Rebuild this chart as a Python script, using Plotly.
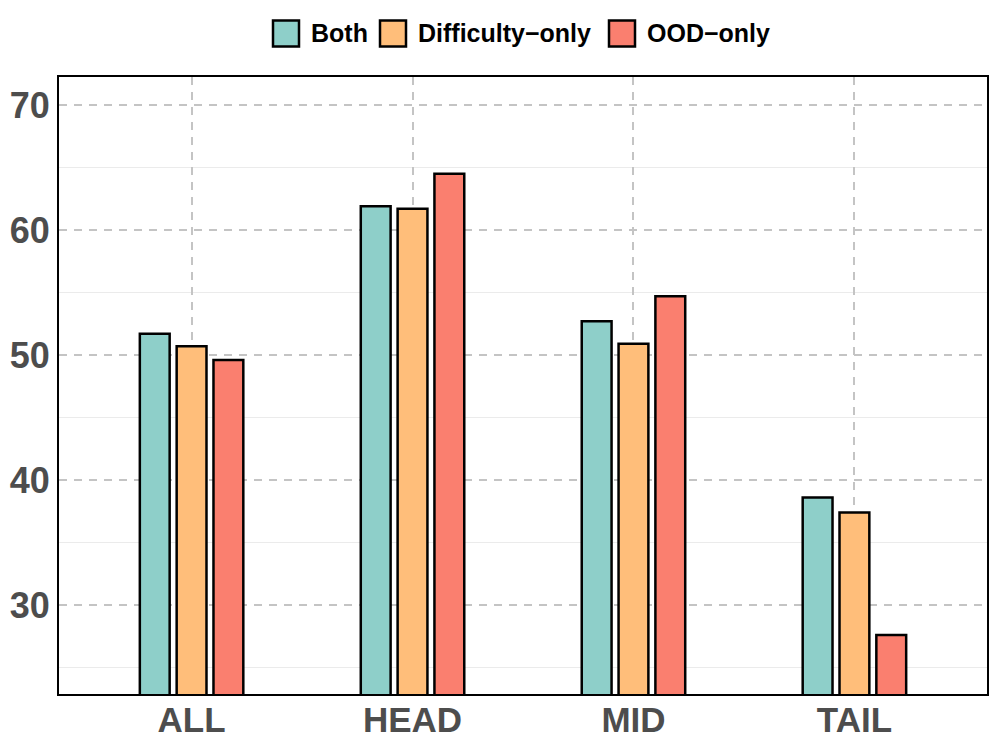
import plotly.graph_objects as go

categories = ["ALL", "HEAD", "MID", "TAIL"]
series_names = ["Both", "Difficulty\u2212only", "OOD\u2212only"]
both_vals = [51.7, 61.9, 52.7, 38.6]
difficulty_vals = [50.7, 61.7, 50.9, 37.4]
ood_vals = [49.6, 64.5, 54.7, 27.6]
y_ticks = [30, 40, 50, 60, 70]

colors = ["#8ECFC9", "#FFBE7A", "#FA7F6F"]
values = [both_vals, difficulty_vals, ood_vals]

# page body adds an 8px margin around the figure
OFF = 8
W, H = 997 - 2 * OFF, 747 - 2 * OFF
ML, MR, MT, MB = 59 - OFF, 2, 77 - OFF, 45
PW, PH = W - ML - MR, H - MT - MB


def px_x(p):
    return (p - OFF - ML) / PW


def px_y(p):
    return (H - MB - (p - OFF)) / PH


fig = go.Figure()
for name, vals, col in zip(series_names, values, colors):
    fig.add_trace(go.Bar(
        x=categories, y=vals, name=name, showlegend=False,
        marker=dict(color=col, line=dict(color="black", width=2.5)),
    ))

# legend drawn as keys + labels above the plot
legend_box_left = [272, 379, 608]
box_size = 28
legend_cy = 33.5
for name, col, bx in zip(series_names, colors, legend_box_left):
    fig.add_shape(
        type="rect", xref="paper", yref="paper",
        x0=px_x(bx + 1), x1=px_x(bx + box_size - 1),
        y0=px_y(legend_cy + box_size / 2 - 1), y1=px_y(legend_cy - box_size / 2 + 1),
        fillcolor=col, line=dict(color="black", width=2.5), layer="above",
    )
    fig.add_annotation(
        xref="paper", yref="paper", x=px_x(bx + box_size + 9), y=px_y(legend_cy),
        xanchor="left", yanchor="middle", showarrow=False, text=name,
        font=dict(size=25, color="black", family="Liberation Sans, Arial, sans-serif", weight="bold"),
    )

fig.update_layout(
    width=W, height=H,
    barmode="group", bargap=0.5, bargroupgap=0.19,
    plot_bgcolor="white", paper_bgcolor="white",
    margin=dict(l=ML, r=MR, t=MT, b=MB),
    font=dict(family="Liberation Sans, Arial, sans-serif"),
    showlegend=False,
)
fig.update_xaxes(
    range=[-0.6, 3.6], automargin=False,
    showline=True, mirror=True, linecolor="black", linewidth=2,
    showgrid=True, gridcolor="#C4C4C4", gridwidth=2, griddash="8px,7px",
    ticks="", tickfont=dict(size=35, color="#4D4D4D", weight="bold"),
    ticklabelstandoff=-6,
    zeroline=False,
)
fig.update_yaxes(
    range=[22.88, 72.24], automargin=False,
    tickvals=y_ticks, ticktext=[str(v) for v in y_ticks],
    showline=True, mirror=True, linecolor="black", linewidth=2,
    showgrid=True, gridcolor="#C4C4C4", gridwidth=2, griddash="8px,7px",
    minor=dict(tickvals=[25, 35, 45, 55, 65], showgrid=True, gridcolor="#EBEBEB",
               gridwidth=1, griddash="solid"),
    ticks="", tickfont=dict(size=36, color="#4D4D4D", weight="bold"),
    ticklabelstandoff=0,
    zeroline=False,
)

fig.write_html("out.html")
